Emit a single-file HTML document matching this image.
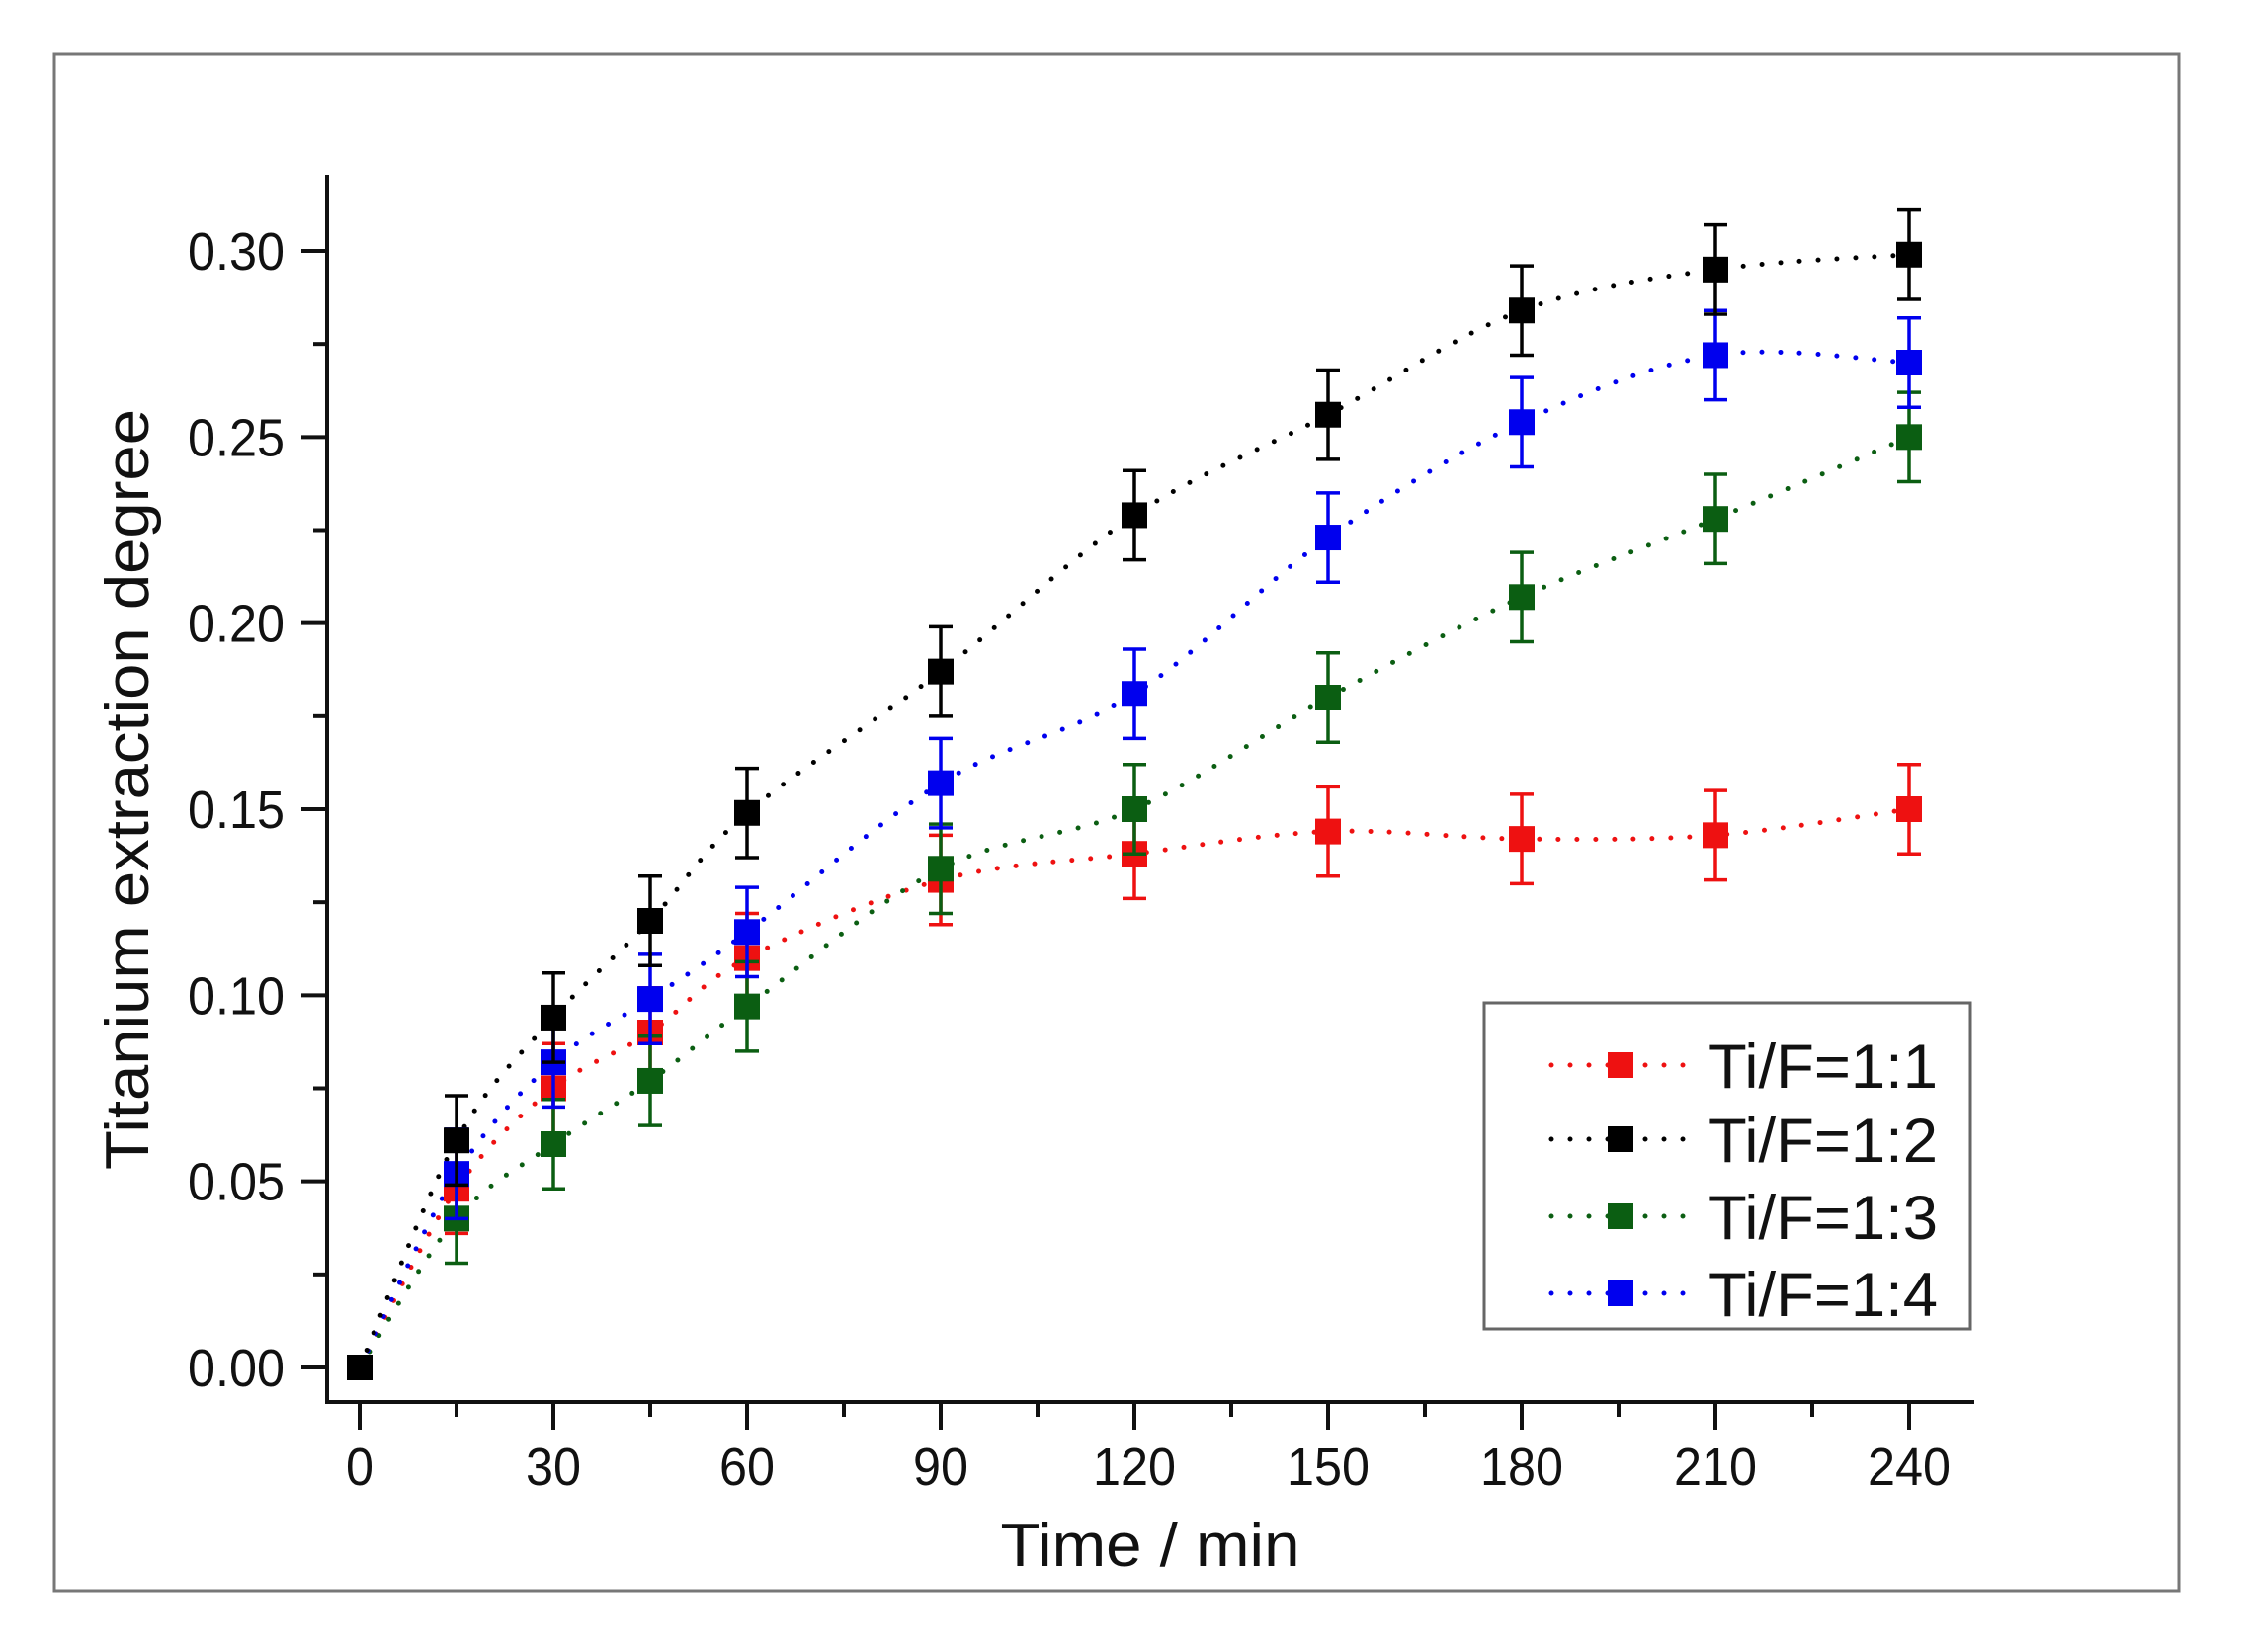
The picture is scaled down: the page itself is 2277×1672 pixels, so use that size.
<!DOCTYPE html>
<html><head><meta charset="utf-8"><style>
html,body{margin:0;padding:0;background:#fff}
svg{display:block}
text{font-family:"Liberation Sans",sans-serif;fill:#111}
</style></head><body>
<svg id="s" width="2277" height="1672" viewBox="0 0 2277 1672" xmlns="http://www.w3.org/2000/svg">
<rect x="0" y="0" width="2277" height="1672" fill="#fff"/>
<rect x="55" y="55" width="2150" height="1555" fill="none" stroke="#777" stroke-width="3"/>
<g id="axes" stroke="#111" stroke-width="4" fill="none">
<line x1="331" y1="177" x2="331" y2="1421"/>
<line x1="329" y1="1419" x2="1998" y2="1419"/>
</g>
<g id="ticks" stroke="#111" stroke-width="4"></g>
<g id="labels"></g>
<text x="1164" y="1585" font-size="62" text-anchor="middle" textLength="303" lengthAdjust="spacingAndGlyphs">Time / min</text>
<text transform="translate(150,799) rotate(-90)" font-size="62" text-anchor="middle" textLength="770" lengthAdjust="spacingAndGlyphs">Titanium extraction degree</text>
<g id="data"></g>
<rect x="1502" y="1015" width="492" height="330" fill="#fff" stroke="#666" stroke-width="3"/>
<g id="legend"></g>
</svg>
<script>
var NS="http://www.w3.org/2000/svg";
function X(t){return 364+t*196/30;}
function Y(v){return 1384-v*(1130/0.30);}
function el(tag,attrs,parent,txt){var e=document.createElementNS(NS,tag);for(var k in attrs)e.setAttribute(k,attrs[k]);if(txt!==undefined)e.textContent=txt;parent.appendChild(e);return e;}
var tk=document.getElementById('ticks'),lb=document.getElementById('labels');
for(var i=0;i<=12;i++){var v=i*0.025,y=Y(v),maj=i%2==0;
 if(y<180)continue;
 el('line',{x1:maj?305:317,y1:y,x2:331,y2:y},tk);
 if(maj)el('text',{x:288,y:y+19,'font-size':54,'text-anchor':'end',textLength:98,lengthAdjust:'spacingAndGlyphs'},lb,v.toFixed(2));}
for(var t=0;t<=240;t+=15){var x=X(t),maj=t%30==0;
 el('line',{x1:x,y1:1419,x2:x,y2:maj?1447:1434},tk);
 if(maj){var s=String(t);el('text',{x:x,y:1503,'font-size':54,'text-anchor':'middle',textLength:s.length*28,lengthAdjust:'spacingAndGlyphs'},lb,s);}}
var T=[0,15,30,45,60,90,120,150,180,210,240];
var S=[
 {c:'#ee1111',v:[0,0.048,0.075,0.09,0.11,0.131,0.138,0.144,0.142,0.143,0.15]},
 {c:'#0b5e12',v:[0,0.04,0.06,0.077,0.097,0.134,0.15,0.18,0.207,0.228,0.25]},
 {c:'#0000ee',v:[0,0.052,0.082,0.099,0.117,0.157,0.181,0.223,0.254,0.272,0.27]},
 {c:'#000000',v:[0,0.061,0.094,0.12,0.149,0.187,0.229,0.256,0.284,0.295,0.299]}];
var g=document.getElementById('data');
S.forEach(function(s){
 var p=T.map(function(t,i){return [X(t),Y(s.v[i])];});
 var d='M'+p[0][0]+','+p[0][1];
 for(var i=0;i<p.length-1;i++){var p0=p[Math.max(0,i-1)],p1=p[i],p2=p[i+1],p3=p[Math.min(p.length-1,i+2)];
  var c1=[p1[0]+(p2[0]-p0[0])/6,p1[1]+(p2[1]-p0[1])/6],c2=[p2[0]-(p3[0]-p1[0])/6,p2[1]-(p3[1]-p1[1])/6];
  d+=' C'+c1+' '+c2+' '+p2;}
 el('path',{d:d,fill:'none',stroke:s.c,'stroke-width':5,'stroke-dasharray':'0 19','stroke-linecap':'round'},g);
});
S.forEach(function(s){
 T.forEach(function(t,i){var x=X(t),y=Y(s.v[i]);
  if(t>0){var e=0.012*1130/0.30;
   el('line',{x1:x,y1:y-e,x2:x,y2:y+e,stroke:s.c,'stroke-width':3.5},g);
   el('line',{x1:x-12,y1:y-e,x2:x+12,y2:y-e,stroke:s.c,'stroke-width':3.5},g);
   el('line',{x1:x-12,y1:y+e,x2:x+12,y2:y+e,stroke:s.c,'stroke-width':3.5},g);}
  el('rect',{x:x-13,y:y-13,width:26,height:26,fill:s.c},g);});
});
var L=[[S[0].c,'Ti/F=1:1',1078],[S[3].c,'Ti/F=1:2',1153],[S[1].c,'Ti/F=1:3',1231],[S[2].c,'Ti/F=1:4',1309]];
var lg=document.getElementById('legend');
L.forEach(function(l){
 el('line',{x1:1570,y1:l[2],x2:1712,y2:l[2],stroke:l[0],'stroke-width':5,'stroke-dasharray':'0 19','stroke-linecap':'round'},lg);
 el('rect',{x:1627,y:l[2]-13,width:26,height:26,fill:l[0]},lg);
 el('text',{x:1729,y:l[2]+23,'font-size':63,textLength:232,lengthAdjust:'spacingAndGlyphs'},lg,l[1]);
});
</script>
</body></html>
